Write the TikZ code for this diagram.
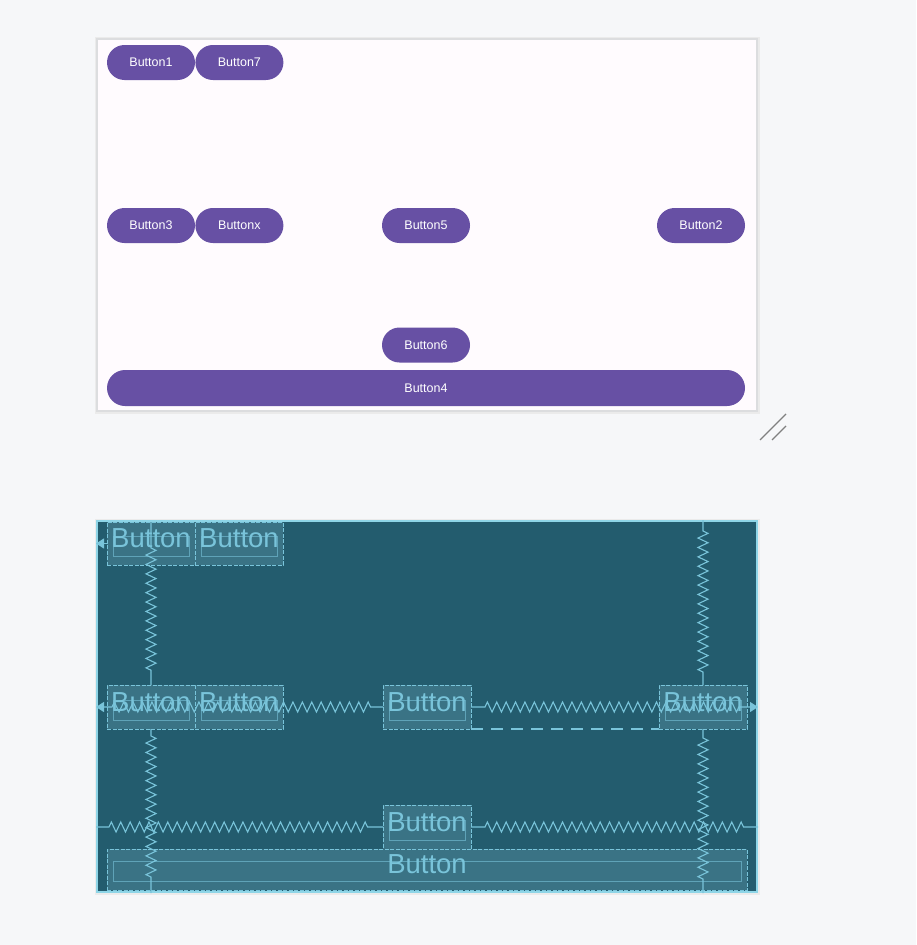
\documentclass[tikz,border=0pt]{standalone}
\usepackage{fontspec}
\setmainfont{Liberation Sans}
\usetikzlibrary{calc, arrows.meta, decorations.pathmorphing, positioning}
\definecolor{pagebg}{HTML}{F6F7F9}
\definecolor{panelwhite}{HTML}{FFFBFE}
\definecolor{panelgray}{HTML}{DCDDDF}
\definecolor{btnpurple}{HTML}{6750A4}
\definecolor{bpdark}{HTML}{235C6E}
\definecolor{bpbox}{HTML}{3A7385}
\definecolor{bpline}{HTML}{79C4DA}
\definecolor{bpedge}{HTML}{8ED5E7}

\begin{document}
\begin{tikzpicture}[x=1pt, y=-1pt,
    btn/.style={fill=btnpurple, text=white, rounded corners=17.5pt, minimum width=88pt,
        minimum height=35pt, inner sep=0pt, font=\fontsize{12.5}{14}\selectfont},
    bpbtn/.style={draw=bpline, line width=1pt, dash pattern=on 4pt off 1.5pt, fill=bpbox,
        text=bpline, minimum width=88pt, minimum height=44pt, inner sep=0pt, outer sep=0pt,
        text depth=10pt, font=\fontsize{27.5}{30}\selectfont},
    spring/.style={draw=bpline, line width=1.1pt, decorate,
        decoration={zigzag, segment length=9.4pt, amplitude=5pt}},
    bptip/.tip={Triangle[length=8pt, width=10pt]}]
    \fill[pagebg] (0,0) rectangle (916,945);
    \useasboundingbox (0,0) rectangle (916,945);

    % design view
    \fill[black!8] (95,37) rectangle (760,414);
    \node[draw=panelgray, line width=1.5pt, fill=panelwhite, minimum width=660pt,
        minimum height=372pt, inner sep=0pt] (top) at (427,225) {};
    \node[btn] (b1) at (151,62.5) {Button1};
    \node[btn, right=0pt of b1] (b7) {Button7};
    \node[btn] (b3) at (151,225.5) {Button3};
    \node[btn, right=0pt of b3] (bx) {Buttonx};
    \node[btn] (b5) at (426,225.5) {Button5};
    \node[btn] (b2) at (701,225.5) {Button2};
    \node[btn] (b6) at (426,345) {Button6};
    \node[btn, minimum width=638pt, minimum height=36pt, rounded corners=18pt] (b4) at (426,388) {Button4};

    % resize handle
    \draw[gray, line width=1.2pt] (760,440) -- (786,414);
    \draw[gray, line width=1.2pt] (772,440) -- (786,426);

    % blueprint view
    \fill[black!8] (95,519) rectangle (760,895);
    \node[draw=bpedge, line width=2pt, fill=bpdark, minimum width=660pt,
        minimum height=371pt, inner sep=0pt] (blue) at (427,706.5) {};
    \node[bpbtn, minimum height=43pt] (q1) at (151,543.5) {Button};
    \node[bpbtn, minimum height=43pt, right=0pt of q1] (q7) {Button};
    \node[bpbtn] (q3) at (151,707) {Button};
    \node[bpbtn, right=0pt of q3] (qx) {Button};
    \node[bpbtn] (q5) at (427,707) {Button};
    \node[bpbtn] (q2) at (703,707) {Button};
    \node[bpbtn] (q6) at (427,827) {Button};
    \node[bpbtn, minimum width=640pt, minimum height=41pt] (q4) at (427,869.5) {Button};
    \foreach \n in {q1,q7,q3,qx,q5,q2,q6,q4}
        \draw[bpline, line width=0.8pt, opacity=0.6] ($(\n.south west)+(6,-9)$) rectangle ($(\n.south east)+(-6,-29)$);

    % constraints
    \draw[bpline, line width=1.1pt, -{bptip}] (q1.west) -- (blue.west |- q1.west);
    \draw[spring, decoration={pre length=26pt, post length=12pt}] (q1.north) -- (q3.north);
    \draw[spring, decoration={pre length=7pt, post length=12pt}] (q3.south) -- (q3.south |- blue.south);
    \draw[spring, decoration={pre length=11pt, post length=13pt}] (q2.north |- blue.north) -- (q2.north);
    \draw[spring, decoration={pre length=9pt, post length=12pt}] (q2.south) -- (q2.south |- blue.south);
    \draw[spring, decoration={pre length=16pt, post length=11pt}, {bptip}-] (blue.west |- q3.center) -- (q5.west);
    \draw[spring, decoration={pre length=14pt, post length=17pt}, -{bptip}] (q5.east) -- (blue.east |- q5.center);
    \draw[bpline, line width=1.1pt, dash pattern=on 12pt off 8pt] (q5.south east) -- (q2.south west);
    \draw[spring, decoration={pre length=13pt, post length=13pt}] (blue.west |- q6.center) -- (q6.west);
    \draw[spring, decoration={pre length=14pt, post length=12pt}] (q6.east) -- (blue.east |- q6.center);
\end{tikzpicture}
\end{document}
